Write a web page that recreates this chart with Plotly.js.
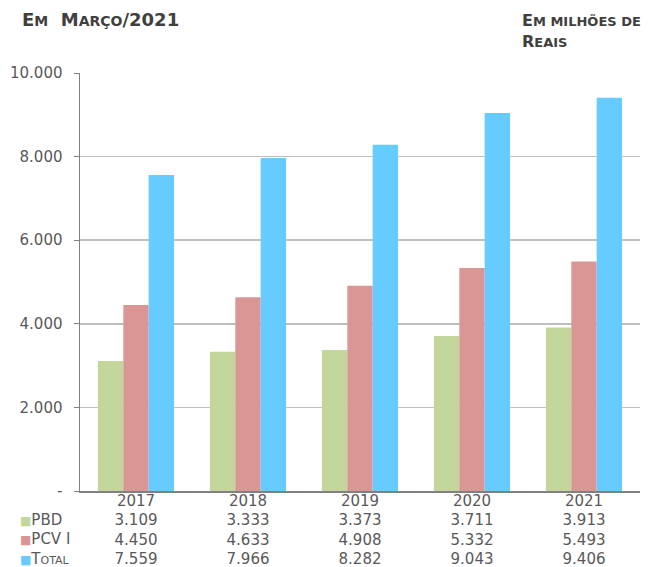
<!DOCTYPE html>
<html>
<head>
<meta charset="utf-8">
<script src="https://cdn.plot.ly/plotly-3.0.1.min.js"></script>
<style>
  body { margin: 0; background: #fff; }
  #chart { width: 653px; height: 567px; }
</style>
</head>
<body>
<div id="chart"></div>
<script>
    // values in millions of reais
    const years = ['2017', '2018', '2019', '2020', '2021'];
    const pbd = [3109, 3333, 3373, 3711, 3913];
    const pcvi = [4450, 4633, 4908, 5332, 5493];
    const total = [7559, 7966, 8282, 9043, 9406];

    const seriesNames = ['PBD', 'PCV I', 'T<span style="font-size:11px">OTAL</span>'];
    const seriesColors = ['#c3d69b', '#d99694', '#66ccff'];

    const yTicks = [0, 2000, 4000, 6000, 8000, 10000];
    const yTickText = ['-', '2.000', '4.000', '6.000', '8.000', '10.000'];

    const fmt = (v) => v.toLocaleString('de-DE');

    // data table under the axis: year + one line per series
    const tableText = years.map((y, i) =>
        [y, fmt(pbd[i]), fmt(pcvi[i]), fmt(total[i])].join('<br>'));

    function makeBar(name, values, color) {
        return {
            type: 'bar',
            name,
            x: years,
            y: values,
            marker: { color },
            hoverinfo: 'skip',
        };
    }

    const data = [
        makeBar(seriesNames[0], pbd, seriesColors[0]),
        makeBar(seriesNames[1], pcvi, seriesColors[1]),
        makeBar(seriesNames[2], total, seriesColors[2]),
    ];

    const font = { family: 'DejaVu Sans', size: 15, color: '#595959' };

    // legend keys of the data table, one per row
    const keyNotes = seriesNames.map((name, i) => ({
        xref: 'paper', yref: 'paper',
        x: -0.111, y: -0.069 - i * 0.047,
        xanchor: 'left', yanchor: 'middle',
        showarrow: false,
        text: '<span style="color:' + seriesColors[i] + ';font-size:12px">■</span>' + name,
        font,
    }));

    const layout = {
        width: 653,
        height: 567,
        margin: { l: 80, r: 13, t: 73, b: 76 },
        paper_bgcolor: '#ffffff',
        plot_bgcolor: '#ffffff',
        font,
        barmode: 'group',
        bargap: 0.32,
        bargroupgap: 0,
        showlegend: false,
        xaxis: {
            type: 'category',
            automargin: false,
            tickmode: 'array',
            tickvals: years,
            ticktext: tableText,
            ticks: '',
            showline: true,
            linecolor: '#808080',
            linewidth: 1.5,
            showgrid: false,
            tickfont: font,
            ticklabelstandoff: -5,
        },
        yaxis: {
            automargin: false,
            range: [0, 10000],
            tickmode: 'array',
            tickvals: yTicks,
            ticktext: yTickText,
            ticks: 'outside',
            ticklen: 5,
            tickcolor: '#808080',
            showline: true,
            linecolor: '#808080',
            linewidth: 1.5,
            gridcolor: '#bfbfbf',
            gridwidth: 1.5,
            zeroline: false,
            tickfont: font,
            ticklabelstandoff: 8,
        },
        annotations: [
            {
                xref: 'paper', yref: 'paper',
                x: -0.107, y: 1.129, xanchor: 'left', yanchor: 'middle',
                showarrow: false,
                text: '<b>E<span style="font-size:14px">M</span>  M<span style="font-size:14px">ARÇO</span>/2021</b>',
                font: { family: 'DejaVu Sans', size: 18, color: '#404040' },
            },
            {
                xref: 'paper', yref: 'paper',
                x: 0.785, y: 1.10, xanchor: 'left', yanchor: 'middle',
                showarrow: false, align: 'left',
                text: '<b>E<span style="font-size:13px">M MILHÕES DE</span><br>R<span style="font-size:13px">EAIS</span></b>',
                font: { family: 'DejaVu Sans', size: 16, color: '#404040' },
            },
            ...keyNotes,
        ],
    };

    Plotly.newPlot('chart', data, layout, { displayModeBar: false, staticPlot: true });
</script>
</body>
</html>
